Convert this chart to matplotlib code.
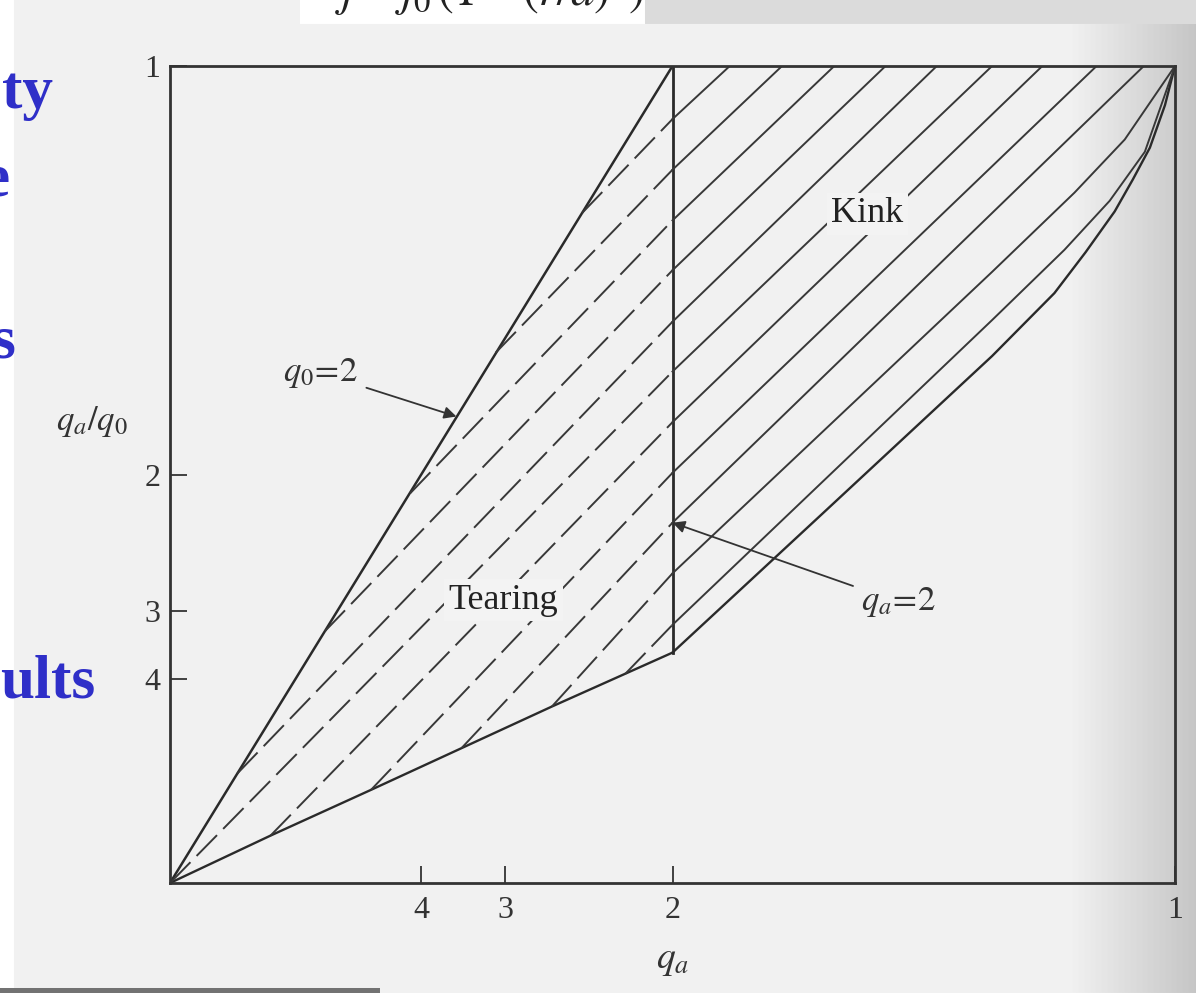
import numpy as np
import matplotlib
matplotlib.use("Agg")
import matplotlib.pyplot as plt

plt.rcParams['font.family'] = ['Liberation Serif', 'DejaVu Serif']
plt.rcParams['mathtext.fontset'] = 'stix'

# axes: x = 1/q_a, y = q_0/q_a ; ticks labelled with q_a and q_a/q_0
x_ticks = [1/4, 1/3, 1/2, 1]
x_tick_labels = ['4', '3', '2', '1']
y_ticks = [1/4, 1/3, 1/2, 1]
y_tick_labels = ['4', '3', '2', '1']

q0_bound = 2.0          # upper-left edge, y = q0 * x
qa_bound = 2.0          # vertical edge at x = 1/qa

# lower edge of the tearing region
tear_low_x = [0.0, 0.10, 0.20, 0.29, 0.38, 0.50]
tear_low_y = [0.0, 0.058, 0.114, 0.165, 0.216, 0.282]

# lower edge of the kink region
kink_low_x = [0.50, 0.65, 0.818, 0.88, 0.911, 0.94, 0.958, 0.975, 0.99, 1.0]
kink_low_y = [0.282, 0.453, 0.645, 0.722, 0.772, 0.822, 0.861, 0.900, 0.952, 1.0]

# hatch lines: start point (tearing side), crossing height at x = 1/2,
# and the rest of the path on the kink side
hatch_mid = [0.935, 0.873, 0.811, 0.750, 0.687, 0.626, 0.564, 0.502, 0.441, 0.379, 0.316]
hatch_start_x = [0.410, 0.324, 0.239, 0.154, 0.067, 0.0, 0.10, 0.20, 0.29, 0.38, 0.453]
hatch_start_y = [0.820, 0.649, 0.477, 0.308, 0.134, 0.0, 0.058, 0.114, 0.165, 0.216, 0.256]
hatch_end_x = [[0.557], [0.609], [0.661], [0.712], [0.763], [0.818], [0.868], [0.922], [0.969],
               [0.818, 0.900, 0.950, 1.0], [0.818, 0.890, 0.935, 0.970, 1.0]]
hatch_end_y = [[1.0], [1.0], [1.0], [1.0], [1.0], [1.0], [1.0], [1.0], [1.0],
               [0.748, 0.845, 0.910, 1.0], [0.689, 0.775, 0.835, 0.895, 1.0]]

W, H = 1196, 1006
fig = plt.figure(figsize=(W / 100, H / 100), dpi=100)

# scanned page background
bg = fig.add_axes([0, 0, 1, 1], zorder=0)
bg.axis('off')
img = np.full((H, W), 0.945)
cols = np.arange(W)
img -= 0.17 * np.clip((cols - 1070) / 126.0, 0, 1)[None, :]
img[:, :14] = 1.0
img[:24, 300:645] = 1.0
img[:24, 645:] = 0.86
img[993:, :] = 1.0
img[988:993, :380] = 0.45
bg.imshow(img, cmap='gray', vmin=0, vmax=1, extent=[0, 1, 0, 1], aspect='auto')

ax = fig.add_axes([170 / W, 1 - 883 / H, 1005 / W, 817 / H], zorder=1)
ax.patch.set_alpha(0)
ax.set_xlim(0, 1)
ax.set_ylim(0, 1)

ink = '#2a2a2a'
hatch_ink = '#383838'

# region boundaries
ax.plot([0, 0.5], [0, q0_bound * 0.5], color=ink, lw=1.8)
ax.plot([1 / qa_bound, 1 / qa_bound], [tear_low_y[-1], 1.0], color=ink, lw=2.0)
ax.plot(tear_low_x, tear_low_y, color=ink, lw=1.7)
ax.plot(kink_low_x, kink_low_y, color=ink, lw=1.7)

# hatching: dashed in the tearing region, solid in the kink region
for i, ym in enumerate(hatch_mid):
    ax.plot([hatch_start_x[i], 0.5], [hatch_start_y[i], ym], color=hatch_ink,
            lw=1.4, dashes=(15, 4.5))
    ax.plot([0.5] + hatch_end_x[i], [ym] + hatch_end_y[i], color=hatch_ink, lw=1.4)

ax.text(0.694, 0.819, 'Kink', fontsize=26, ha='center', va='center', color='#222',
        bbox=dict(facecolor='#f3f3f3', edgecolor='none', pad=3))
ax.text(0.332, 0.346, 'Tearing', fontsize=26, ha='center', va='center', color='#222',
        bbox=dict(facecolor='#f3f3f3', edgecolor='none', pad=3))

arrow = dict(arrowstyle='-|>', color='#333', lw=1.3, mutation_scale=18,
             shrinkA=4, shrinkB=0)
ax.annotate('$q_0\\!=\\!2$', xy=(0.285, 0.571), xytext=(0.150, 0.624),
            fontsize=25, ha='center', va='center', color='#333', arrowprops=arrow)
ax.annotate('$q_a\\!=\\!2$', xy=(0.5, 0.441), xytext=(0.725, 0.344),
            fontsize=25, ha='center', va='center', color='#333', arrowprops=arrow)

ax.set_xticks(x_ticks)
ax.set_xticklabels(x_tick_labels)
ax.set_yticks(y_ticks)
ax.set_yticklabels(y_tick_labels)
ax.tick_params(direction='in', length=12, width=1.3, color='#333',
               labelsize=23, labelcolor='#333')
ax.tick_params(axis='x', pad=9)
ax.tick_params(axis='y', pad=7)
for s in ax.spines.values():
    s.set_color('#333')
    s.set_linewidth(2.0)

ax.text(0.5, -0.095, '$q_a$', fontsize=27, ha='center', va='center',
        color='#333', clip_on=False)
ax.text(-0.078, 0.565, '$q_a/q_0$', fontsize=25, ha='center', va='center',
        color='#333', clip_on=False)

# slide text around the scan
blue = '#2f2fc8'
for s, px, py in [('ty', 2, 108), ('e', -17, 195), ('s', -9, 358), ('ults', 0, 698)]:
    fig.text(px / W, 1 - py / H, s, fontsize=44, fontweight='bold', color=blue,
             va='baseline', ha='left', zorder=3)
fig.text(335 / W, 1 - 6 / H, '$j=j_0\\,(1-(r/a)^2)^{\\nu}$', fontsize=34,
         color='#222', va='baseline', ha='left', zorder=3)

fig.savefig('out.png', dpi=100)
